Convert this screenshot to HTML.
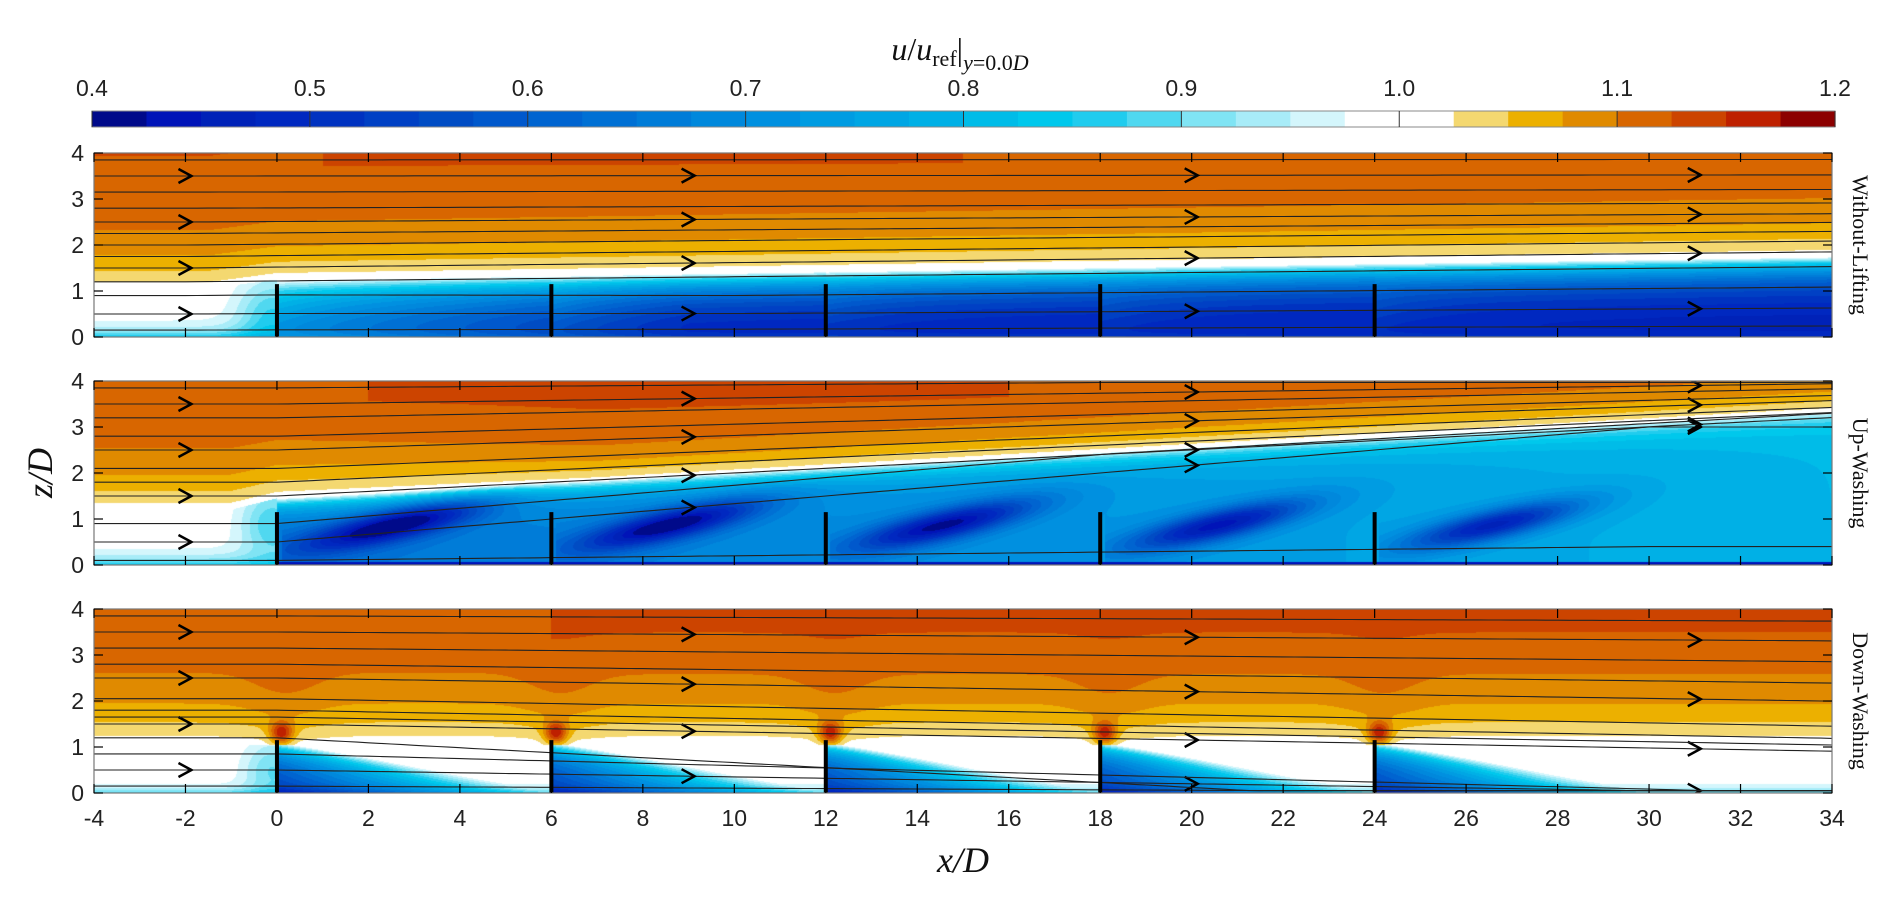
<!DOCTYPE html>
<html><head><meta charset="utf-8">
<style>
html,body{margin:0;padding:0;background:#fff;}
#root{position:relative;width:1892px;height:899px;overflow:hidden;background:#fff;font-family:"Liberation Sans",sans-serif;}
canvas{position:absolute;}
svg{position:absolute;left:0;top:0;}
</style></head>
<body>
<div id="root">
<canvas id="c0"></canvas>
<canvas id="c1"></canvas>
<canvas id="c2"></canvas>
<svg id="ov" width="1892" height="899"></svg>
</div>
<script>
// ---- data ----
const turbineX = [0, 6, 12, 18, 24];
const xTicks = [-4,-2,0,2,4,6,8,10,12,14,16,18,20,22,24,26,28,30,32,34];
const zTicks = [0,1,2,3,4];
const cbTicks = [0.4,0.5,0.6,0.7,0.8,0.9,1.0,1.1,1.2];
const cbColors = ["#000a8a","#0014b8","#0022b8","#0028c0","#0032c0","#0040c4","#004cc4","#0058cc","#0064d0","#0070d4","#007cd8","#0088dc","#0090e0","#009ce2","#00a6e4","#00b0e6","#00bce8","#00c8ec","#20ccee","#50d8f0","#80e4f4","#a8ecf8","#d4f6fc","#ffffff","#ffffff","#f4d870","#ecb000","#e08a00","#d86600","#cc4400","#be2000","#8c0000"];
const panelNames = ["Without-Lifting","Up-Washing","Down-Washing"];
const streamStarts0 = [0.15,0.5,0.9,1.2,1.5,1.75,2.0,2.25,2.5,2.8,3.15,3.5,3.85];
const streamStarts1 = [0.1,0.5,0.9,1.5,1.8,2.1,2.5,2.8,3.2,3.5,3.85];
const streamStarts2 = [0.15,0.5,0.85,1.2,1.5,1.65,1.8,2.05,2.5,2.8,3.15,3.5,3.85];
const arrowX = [-2, 9, 20, 31];
const arrowZ = [0.5,1.5,2.5,3.5];

// ---- geometry ----
const L=94, R=1832, PT=[153,381,609], PH=184;
const X = x => L + (x+4)*(R-L)/38;
const Zp = (p,z) => PT[p] + PH - z*PH/4;
const NS="http://www.w3.org/2000/svg";
const ov=document.getElementById('ov');
function mk(tag,attrs,parent){const e=document.createElementNS(NS,tag);for(const k in attrs)e.setAttribute(k,attrs[k]);(parent||ov).appendChild(e);return e;}

function hex(c){return [parseInt(c.slice(1,3),16),parseInt(c.slice(3,5),16),parseInt(c.slice(5,7),16)];}
const rgb=cbColors.map(hex);
function colorOf(u){let i=Math.floor((u-0.4)/0.025);if(i<0)i=0;if(i>31)i=31;return rgb[i];}

// ---- field models ----
function above(z,zs,tau){return 1+0.13*(1-Math.exp(-Math.max(0,z-zs)/tau));}
function fWL(x,z){
  let zs = x<0 ? 1.05+0.2*Math.max(0,(x+1.5)/1.5) : 1.25+0.5*x/34;
  if(z>=zs){let u=above(z,zs-0.05,0.9); if(x>1&&x<15) u+=0.006*Math.exp(-Math.pow(z-3.9,2)/0.05); return u;}
  if(x<0){
    let u=1.0-0.15*Math.exp(-z/0.2);
    u-=0.12*Math.exp(-Math.pow(x+0.1,2)/0.6)*Math.exp(-Math.pow(z-0.5,2)/0.6);
    return u;
  }
  let A=0.36+0.2*Math.min(1,x/9);
  let t=zs-z;
  let u=1-A*(1-Math.exp(-t/0.45));
  u+=0.06*Math.exp(-z/0.12);
  for(const xt of turbineX){let d=x-xt; if(d>0&&d<6) u+=0.05*Math.exp(-d/1.5)*Math.exp(-Math.pow(z-0.6,2)/0.3);}
  return u;
}
function fUW(x,z){
  let zs = x<0 ? 1.2+0.25*Math.max(0,x+1) : 1.45+1.9*x/34;
  let tau = 0.95-0.4*Math.min(1,Math.max(0,x+1)/8);
  if(z>=zs){let u=above(z,zs-0.05,tau); if(x>2&&x<16) u+=0.006*Math.exp(-Math.pow(z-3.7,2)/0.1); return u;}
  if(x<0){
    let u=1.0-0.15*Math.exp(-z/0.2);
    u-=0.12*Math.exp(-Math.pow(x+0.1,2)/0.5)*Math.exp(-Math.pow(z-0.9,2)/0.6);
    return u;
  }
  let D=0.36-0.16*x/34;
  let u=1-D*(1-Math.exp(-(zs-z)/0.25));
  for(const xt of turbineX){
    let d=x-xt; if(d<0.1||d>8) continue;
    let zc=0.3+0.22*d;
    let env=Math.exp(-Math.pow(d-2.6,2)/4);
    u-=0.3*env*Math.exp(-Math.pow(z-zc,2)/0.12);
  }
  if(z<0.07) u=Math.min(u,0.45);
  return u;
}
function fDW(x,z){
  let u;
  if(z>=1.05){
    u=above(z,1.0,1.1);
    if(x>6) u+=0.01*Math.exp(-Math.pow(z-3.8,2)/0.6);
    for(const xt of turbineX){
      let d=x-xt;
      u+=0.015*Math.exp(-Math.pow(d-0.2,2)/0.8)*Math.exp(-Math.pow(z-2.0,2)/1.2);
      u+=0.13*Math.exp(-(Math.pow(d-0.1,2)+Math.pow(z-1.3,2))/0.06);
    }
    return u;
  }
  u=1.0-0.12*Math.exp(-z/0.12);
  for(const xt of turbineX){
    let d=x-xt; if(d<0||d>6.5) continue;
    let top=1.1*(1-Math.pow(d/6,1.1));
    if(z<top){let s=0.45*(1-d/7.5);u-=s*(1-Math.exp(-(top-z)/0.3));}
  }
  if(x<0) u-=0.1*Math.exp(-Math.pow(x+0.1,2)/0.4)*Math.exp(-Math.pow(z-0.5,2)/0.4);
  return u;
}
const fields=[fWL,fUW,fDW];
fields.forEach((f,p)=>{
  const c=document.getElementById('c'+p);
  const w=R-L, h=PH;
  c.width=w;c.height=h;c.style.left=L+'px';c.style.top=PT[p]+'px';
  const ctx=c.getContext('2d');const img=ctx.createImageData(w,h);
  for(let j=0;j<h;j++){const z=(h-j-0.5)*4/h;for(let i=0;i<w;i++){const x=-4+(i+0.5)*38/w;const col=colorOf(f(x,z));const k=(j*w+i)*4;img.data[k]=col[0];img.data[k+1]=col[1];img.data[k+2]=col[2];img.data[k+3]=255;}}
  ctx.putImageData(img,0,0);
});

// ---- streamlines ----
function slWL(z0,x){let r=Math.max(0,x+2)/36;return z0+0.35*r*Math.exp(-Math.pow(z0-1.5,2)/1.5)-(z0<1.1&&x>0?0.1*Math.min(1,x/10)*z0:0);}
function slUW(z0,x){
  if(z0>=1.4){const s=Math.max(0,1-(z0-1.4)/2.8);return Math.min(3.97,z0+(x>0?x*0.052*s:0));}
  let z=z0;for(const xt of turbineX){if(x>xt){z+= (z0>0.3?0.5:0.1)*Math.min(1,(x-xt)/6)*(z0>0.3?1:0.6);}}
  return Math.min(z, 1.45+1.9*Math.max(0,x)/34-0.05);
}
function slDW(z0,x){
  if(z0>1.3){return z0-0.018*Math.max(0,x)*Math.exp(-Math.pow(z0-1.8,2)/2.5);}
  let d=Math.max(0,x)*0.03*z0*(z0>1?1.5:1);return Math.max(0.05,z0-d);
}
const sls=[slWL,slUW,slDW], starts=[streamStarts0,streamStarts1,streamStarts2];
for(let p=0;p<3;p++){
  const g=mk('g',{'clip-path':'url(#clip'+p+')'});
  const cp=mk('clipPath',{id:'clip'+p});mk('rect',{x:L,y:PT[p],width:R-L,height:PH},cp);
  starts[p].forEach((z0,si)=>{
    let d='';for(let x=-4;x<=34.01;x+=0.25){d+=(x===-4?'M':'L')+X(x).toFixed(1)+','+Zp(p,sls[p](z0,x)).toFixed(1);}
    const pl=mk('path',{d:d,fill:'none',stroke:'#222',"stroke-width":1.1},g);
    
    
    if(arrowZ.indexOf(z0)>=0){
      arrowX.forEach(ax=>{
        const px=X(ax), py=Zp(p,sls[p](z0,ax));
        const a=mk('path',{d:`M${px-7},${py-7}L${px+6},${py}L${px-7},${py+7}`,fill:'none',stroke:'#000','stroke-width':2.5},g);
        
        
      });
    }
  });
  turbineX.forEach(xt=>{
    const t=mk('line',{x1:X(xt),x2:X(xt),y1:Zp(p,0),y2:Zp(p,1.15),stroke:'#000','stroke-width':4});
    
    
  });
  const fr=mk('rect',{x:L,y:PT[p],width:R-L,height:PH,fill:'none',stroke:'#777','stroke-width':1.2});
  
  
  xTicks.forEach(t=>{mk('line',{x1:X(t),x2:X(t),y1:PT[p],y2:PT[p]+9,stroke:'#000','stroke-width':1.2});mk('line',{x1:X(t),x2:X(t),y1:PT[p]+PH,y2:PT[p]+PH-9,stroke:'#000','stroke-width':1.2});});
  zTicks.forEach(t=>{mk('line',{x1:L,x2:L+9,y1:Zp(p,t),y2:Zp(p,t),stroke:'#000','stroke-width':1.2});mk('line',{x1:R,x2:R-9,y1:Zp(p,t),y2:Zp(p,t),stroke:'#000','stroke-width':1.2});
    const tl=mk('text',{x:L-10,y:Zp(p,t)+8,'text-anchor':'end','font-size':23,fill:'#222','font-family':'Liberation Sans, sans-serif'});tl.textContent=t;
    
    
  });
  const cy=PT[p]+PH/2;
  const nm=mk('text',{x:1853,y:cy,'text-anchor':'middle','font-size':22,fill:'#111','font-family':'Liberation Serif, serif',transform:`rotate(90 1853 ${cy})`});
  nm.textContent=panelNames[p];
  
  
}
xTicks.forEach(t=>{
  const tl=mk('text',{x:X(t),y:826,'text-anchor':'middle','font-size':23,fill:'#222','font-family':'Liberation Sans, sans-serif'});tl.textContent=t;
  
  
});
const xt=mk('text',{x:963,y:872,'text-anchor':'middle','font-size':36,'font-style':'italic','font-family':'Liberation Serif, serif',fill:'#111'});xt.textContent='x/D';


const zt=mk('text',{x:52,y:473,'text-anchor':'middle','font-size':36,'font-style':'italic','font-family':'Liberation Serif, serif',fill:'#111',transform:'rotate(-90 52 473)'});zt.textContent='z/D';


const CL=92, CR=1835, CT=111, CB=127;
const CX=v=>CL+(v-0.4)/0.8*(CR-CL);
cbColors.forEach((c,i)=>{
  const r=mk('rect',{x:CX(0.4+i*0.025),y:CT,width:(CR-CL)/32+0.6,height:CB-CT,fill:c});
  
  
});
mk('rect',{x:CL,y:CT,width:CR-CL,height:CB-CT,fill:'none',stroke:'#888','stroke-width':1});
cbTicks.forEach(v=>{
  mk('line',{x1:CX(v),x2:CX(v),y1:CT,y2:CB,stroke:'#333','stroke-width':1});
  const tl=mk('text',{x:CX(v),y:96,'text-anchor':'middle','font-size':23,fill:'#222','font-family':'Liberation Sans, sans-serif'});tl.textContent=v.toFixed(1);
  
  
});
const ti=mk('text',{x:960,y:60,'text-anchor':'middle','font-size':32,'font-family':'Liberation Serif, serif',fill:'#111'});


ti.innerHTML='<tspan font-style="italic">u</tspan>/<tspan font-style="italic">u</tspan><tspan font-size="22" dy="6">ref</tspan><tspan dy="-6">|</tspan><tspan font-size="22" dy="10" font-style="italic">y</tspan><tspan font-size="22">=0.0</tspan><tspan font-size="22" font-style="italic">D</tspan>';
</script>
</body></html>
